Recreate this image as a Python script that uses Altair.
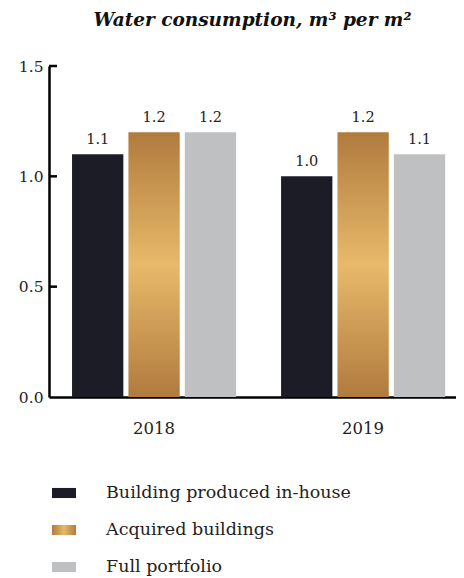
import altair as alt
import pandas as pd

years = ["2018", "2019"]
series = ["Building produced in-house", "Acquired buildings", "Full portfolio"]
values_2018 = [1.1, 1.2, 1.2]
values_2019 = [1.0, 1.2, 1.1]
y_ticks = [0.5, 1.0, 1.5]

rows = []
for yr, vals in zip(years, [values_2018, values_2019]):
    for s, v in zip(series, vals):
        rows.append({"year": yr, "series": s, "value": v})
df = pd.DataFrame(rows)
ticks_df = pd.DataFrame({"value": y_ticks})

FONT = "DejaVu Serif"
DARK = "#1c1c26"
GRAY = "#bfc0c2"
GOLD_D = "#b07b3e"
GOLD_L = "#e8b96a"

vgrad = {
    "gradient": "linear", "x1": 0, "y1": 0, "x2": 0, "y2": 1,
    "stops": [
        {"offset": 0, "color": GOLD_D},
        {"offset": 0.5, "color": GOLD_L},
        {"offset": 1, "color": GOLD_D},
    ],
}
hgrad_expr = ("{gradient: 'linear', x1: 0, y1: 0, x2: 1, y2: 0, stops: ["
              "{offset: 0, color: '%s'}, {offset: 0.5, color: '%s'}, {offset: 1, color: '%s'}]}"
              % (GOLD_D, GOLD_L, GOLD_D))

x_enc = alt.X(
    "year:N", sort=years, title=None,
    scale=alt.Scale(paddingInner=0.215, paddingOuter=0.081, align=0.68),
    axis=alt.Axis(labelAngle=0, ticks=False, domainColor="#000", domainWidth=2.5,
                  labelFont=FONT, labelFontSize=16.5, labelColor="#222",
                  labelPadding=23),
)
xoff_enc = alt.XOffset("series:N", sort=series, scale=alt.Scale(paddingInner=0.09))
y_enc = alt.Y(
    "value:Q", title=None,
    scale=alt.Scale(domain=[0, 1.5], nice=False),
    axis=alt.Axis(values=[0, 0.5, 1.0, 1.5], format=".1f", ticks=False, grid=False,
                  domainColor="#000", domainWidth=2.5,
                  labelFont=FONT, labelFontSize=15.5, labelColor="#222",
                  labelPadding=6),
)

base = alt.Chart(df).encode(x=x_enc, xOffset=xoff_enc, y=y_enc)

bars = base.mark_bar().encode(
    fill=alt.condition(
        alt.datum.series == "Acquired buildings",
        alt.value(vgrad),
        alt.Fill(
            "series:N", sort=series,
            scale=alt.Scale(domain=series, range=[DARK, {"expr": hgrad_expr}, GRAY]),
            legend=alt.Legend(
                title=None, orient="none", legendX=3, legendY=415,
                direction="vertical",
                symbolType="M-1,-0.42H1V0.42H-1Z", symbolSize=576,
                symbolStrokeWidth=0, symbolOpacity=1,
                labelFont=FONT, labelFontSize=17.5, labelColor="#222",
                labelOffset=30, rowPadding=16, labelLimit=400,
            ),
        ),
    )
)

labels = base.mark_text(baseline="bottom", dy=-7, font=FONT, fontSize=14.5, color="#222").encode(
    text=alt.Text("value:Q", format=".1f")
)

tick_marks = alt.Chart(ticks_df).mark_rule(color="#000", strokeWidth=2.5).encode(
    y="value:Q", x=alt.value(0), x2=alt.value(8)
)

chart = alt.layer(bars, labels, tick_marks).properties(
    width=407, height=331,
    title=alt.TitleParams(
        "Water consumption, m³ per m²", font=FONT, fontSize=18.5, fontStyle="italic",
        fontWeight="bold", anchor="middle", color="#111", offset=30,
    ),
    autosize=alt.AutoSizeParams(type="none"),
    padding={"left": 41, "top": 58, "right": 0, "bottom": 180},
).configure_view(stroke=None)

chart.save("out.html", embed_options={"renderer": "svg", "actions": False})
